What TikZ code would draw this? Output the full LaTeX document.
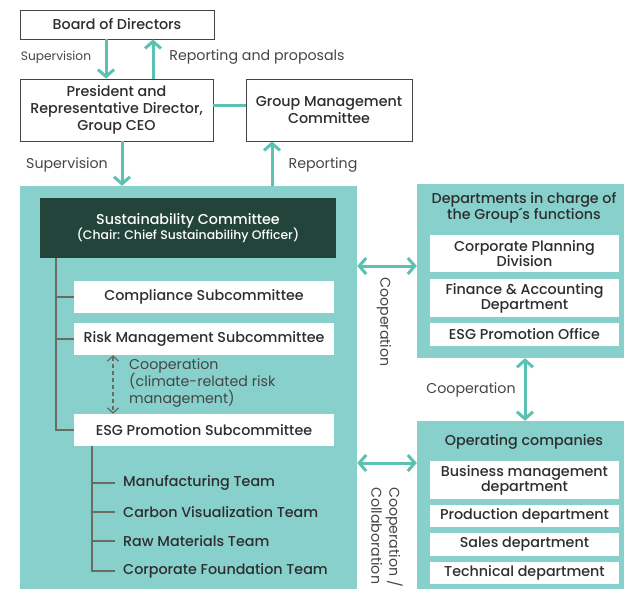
\documentclass[tikz,border=0pt]{standalone}
\usepackage{fontspec}
\setmainfont{Poppins}[BoldFont={Poppins Medium}]
\usetikzlibrary{arrows.meta,calc}
\definecolor{panelc}{HTML}{88D0CB}
\definecolor{arrc}{HTML}{5DC1B2}
\definecolor{darkc}{HTML}{23443A}
\definecolor{txtc}{HTML}{2E2E2E}
\definecolor{lblc}{HTML}{454545}
\definecolor{treec}{HTML}{6B6B62}
\tikzset{
  outbox/.style={draw=txtc!90, line width=0.9pt, fill=white, align=center, text=txtc, font=\bfseries\fontsize{14.3}{17}\selectfont, inner sep=0pt},
  panel/.style={fill=panelc, draw=none, inner sep=0pt},
  wbox/.style={fill=white, draw=none, align=center, text=txtc, font=\bfseries\fontsize{14.3}{15}\selectfont, inner sep=0pt},
  lbl/.style={text=lblc, font=\fontsize{14.2}{17}\selectfont, inner sep=0pt},
  arr/.style={draw=arrc, line width=3pt, -{Straight Barb[length=7pt,width=16pt,line width=3pt]}},
  darr/.style={draw=arrc, line width=3pt, {Straight Barb[length=7pt,width=16pt,line width=3pt]}-{Straight Barb[length=7pt,width=16pt,line width=3pt]}},
  treeline/.style={draw=treec, line width=1.6pt},
  team/.style={anchor=west, text=txtc, font=\bfseries\fontsize{14.3}{17}\selectfont, inner sep=0pt},
}
\begin{document}
\begin{tikzpicture}[x=1pt,y=-1pt]
\useasboundingbox (0,0) rectangle (624,589);
% top boxes
\node[outbox, minimum width=194pt, minimum height=29pt] (bod) at (117,24.5) {Board of Directors};
\node[outbox, minimum width=193pt, minimum height=62pt] (pres) at (116.5,110) {President and\\Representative Director,\\Group CEO};
\node[outbox, minimum width=166pt, minimum height=62pt] (gmc) at (329,110) {Group Management\\Committee};
\draw[draw=arrc, line width=3pt] ([yshift=5pt]pres.east) -- ([yshift=5pt]gmc.west);
\draw[arr] ([xshift=-11pt]bod.south) -- ([xshift=-11pt]bod.south |- pres.north);
\draw[arr] ([xshift=36pt]bod.south |- pres.north) -- ([xshift=36pt]bod.south);
\node[lbl, font=\fontsize{12.2}{14}\selectfont] (l1) at (56,57) {Supervision};
\node[lbl] (l2) at (257,57) {Reporting and proposals};
% panels
\node[panel, minimum width=337pt, minimum height=403pt] (big) at (188.5,387.5) {};
\node[panel, minimum width=207pt, minimum height=174pt] (dept) at (520.5,271) {};
\node[panel, minimum width=207pt, minimum height=168pt] (op) at (520.5,505) {};
\draw[arr] ([xshift=5.5pt]pres.south) -- ([xshift=5.5pt]pres.south |- big.north);
\draw[arr] ([xshift=-57pt]gmc.south |- big.north) -- ([xshift=-57pt]gmc.south);
\node[lbl] (l3) at (67,165) {Supervision};
\node[lbl] (l4) at (323,165) {Reporting};
% sustainability committee
\node[fill=darkc, minimum width=296pt, minimum height=60pt, align=center, text=white, inner sep=0pt] (sc) at (188,228)
  {{\bfseries\fontsize{14.3}{17}\selectfont Sustainability Committee}\\[-1pt]{\bfseries\fontsize{12.4}{14}\selectfont (Chair: Chief Sustainabilihy Officer)}};
\node[wbox, minimum width=260pt, minimum height=32pt] (comp) at (204,297) {Compliance Subcommittee};
\node[wbox, minimum width=260pt, minimum height=32pt] (risk) at (204,339) {Risk Management Subcommittee};
\node[wbox, minimum width=260pt, minimum height=32pt] (esg) at (204,430) {ESG Promotion Subcommittee};
\coordinate (trunk) at ([xshift=-132pt]sc.south);
\draw[treeline] (trunk) -- (trunk |- esg.west) -- (esg.west);
\draw[treeline] (trunk |- comp.west) -- (comp.west);
\draw[treeline] (trunk |- risk.west) -- (risk.west);
\draw[draw=treec, line width=1.3pt, dash pattern=on 4pt off 3pt, {Straight Barb[length=5pt,width=11pt,line width=1.3pt]}-{Straight Barb[length=5pt,width=11pt,line width=1.3pt]}] ([xshift=-91pt]risk.south) -- ([xshift=-91pt]esg.north);
\node[lbl, anchor=north west, align=left, font=\fontsize{14.2}{16.5}\selectfont] (coopc) at (129,358) {Cooperation\\(climate-related risk\\management)};
% teams
\node[team] (t1) at (123,483) {Manufacturing Team};
\node[team] (t2) at (123,512) {Carbon Visualization Team};
\node[team] (t3) at (123,541) {Raw Materials Team};
\node[team] (t4) at (123,571) {Corporate Foundation Team};
\coordinate (trunk2) at ([xshift=-112pt]esg.south);
\draw[treeline] (trunk2) -- (trunk2 |- t4.west) -- ([xshift=-8pt]t4.west);
\draw[treeline] (trunk2 |- t1.west) -- ([xshift=-8pt]t1.west);
\draw[treeline] (trunk2 |- t2.west) -- ([xshift=-8pt]t2.west);
\draw[treeline] (trunk2 |- t3.west) -- ([xshift=-8pt]t3.west);
% departments panel
\node[text=txtc, align=center, font=\bfseries\fontsize{14.3}{16}\selectfont, inner sep=0pt] (dtitle) at (524,208) {Departments in charge of\\the Group\textasciiacute s functions};
\node[wbox, minimum width=189pt, minimum height=37pt, font=\bfseries\fontsize{14.3}{15}\selectfont] (cpd) at (524.5,253.5) {Corporate Planning\\Division};
\node[wbox, minimum width=189pt, minimum height=38pt, font=\bfseries\fontsize{14.3}{15}\selectfont] (fa) at (524.5,298) {Finance \& Accounting\\Department};
\node[wbox, minimum width=189pt, minimum height=23pt] (esgo) at (524.5,334.5) {ESG Promotion Office};
% operating companies
\node[text=txtc, font=\bfseries\fontsize{14.3}{16}\selectfont, inner sep=0pt] (otitle) at (524,442) {Operating companies};
\node[wbox, minimum width=189pt, minimum height=38pt, font=\bfseries\fontsize{14.3}{15}\selectfont] (bmd) at (524.5,480) {Business management\\department};
\node[wbox, minimum width=189pt, minimum height=22pt] (prod) at (524.5,516) {Production department};
\node[wbox, minimum width=189pt, minimum height=23pt] (sales) at (524.5,544.5) {Sales department};
\node[wbox, minimum width=189pt, minimum height=22pt] (tech) at (524.5,573) {Technical department};
% cooperation arrows
\coordinate (a1) at ([yshift=5pt]dept.west);
\draw[darr] (big.east |- a1) -- (a1);
\coordinate (a2) at ([yshift=42pt]op.west);
\draw[darr] (big.east |- a2) -- (a2);
\draw[darr] ([xshift=4.5pt]dept.south) -- ([xshift=4.5pt]dept.south |- op.north);
\node[lbl, rotate=-90] (l5) at (384,322) {Cooperation};
\node[lbl, rotate=-90, align=left, font=\fontsize{14.2}{18}\selectfont] (l6) at (387,537) {Cooperation /\\Collaboration};
\node[lbl] (l7) at (471,390) {Cooperation};
\end{tikzpicture}
\end{document}
